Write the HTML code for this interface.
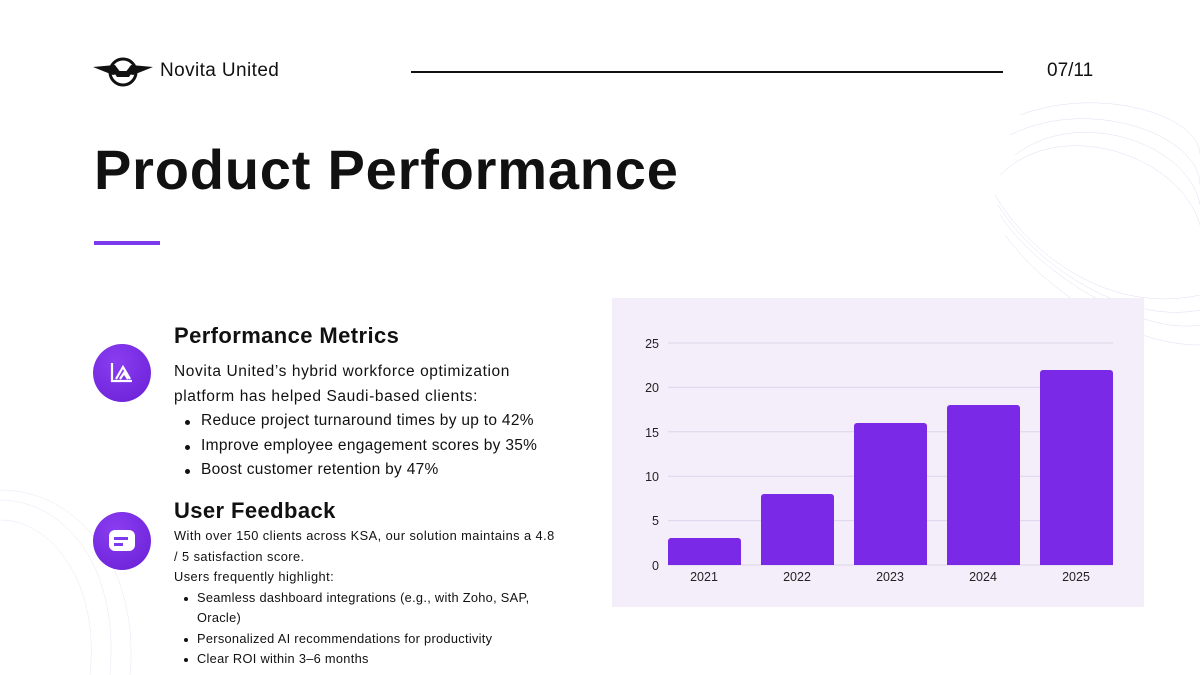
<!DOCTYPE html>
<html><head><meta charset="utf-8"><style>
*{margin:0;padding:0;box-sizing:border-box}
body{width:1200px;height:675px;background:#fff;font-family:"Liberation Sans",sans-serif;color:#111;position:relative;overflow:hidden}
.a{position:absolute}
ul{list-style:none}
li{position:relative;white-space:nowrap}
.circ{width:58px;height:58px;border-radius:50%;background:radial-gradient(circle at 40% 30%,#8a3df0,#6a1fd6)}
</style></head><body>
<svg class="a" style="left:990px;top:95px" width="210" height="260" viewBox="0 0 210 260">
<g fill="none" stroke="#e4dbf3" stroke-width="0.5">
<path d="M30 20 C110 -10 210 20 210 60"/><path d="M20 40 C100 0 210 40 210 90"/>
<path d="M10 80 C70 20 190 60 210 130"/><path d="M10 120 C50 180 150 240 210 230"/>
<path d="M15 140 C60 200 140 250 210 250"/><path d="M5 100 C40 160 120 220 210 200"/>
<path d="M25 60 C90 10 200 50 210 110"/><path d="M8 110 C45 170 135 230 210 215"/>
</g></svg>
<svg class="a" style="left:0;top:480px" width="200" height="195" viewBox="0 0 200 195">
<g fill="none" stroke="#ebe4f6" stroke-width="0.5">
<path d="M0 20 C60 20 120 80 110 195"/><path d="M0 40 C50 40 100 100 90 195"/><path d="M0 10 C80 10 140 90 130 195"/>
</g></svg>
<svg class="a" style="left:93px;top:55px" width="60" height="34" viewBox="0 0 60 34">
<circle cx="30" cy="17" r="13" fill="none" stroke="#111" stroke-width="3"/>
<path d="M0 12 L22 10 L28 18 L20 20 Z M60 12 L38 10 L32 18 L40 20 Z" fill="#111"/>
<path d="M20 16 L40 16 L36 22 L24 22 Z" fill="#111"/>
</svg>
<div class="a" style="left:160px;top:60px;font-size:19px;letter-spacing:0.4px">Novita United</div>
<div class="a" style="left:411px;top:71px;width:592px;height:2px;background:#111"></div>
<div class="a" style="left:1047px;top:60px;font-size:19px">07/11</div>
<div class="a" style="left:94px;top:137px;font-size:56px;font-weight:bold;letter-spacing:0.8px">Product Performance</div>
<div class="a" style="left:94px;top:241px;width:66px;height:4px;background:#7c3aed"></div>

<div class="a circ" style="left:93px;top:344px"></div>
<svg class="a" style="left:108px;top:359px" width="28" height="28" viewBox="0 0 28 28" fill="none" stroke="#fff" stroke-width="2.2"><path d="M4 4 V22 H24"/><path d="M8 20 L15 8 L22 20 M12 20 L16 14 L20 20"/></svg>
<div class="a circ" style="left:93px;top:512px"></div>
<div class="a" style="left:109px;top:530px;width:26px;height:21px;background:#fff;border-radius:6px"></div>
<div class="a" style="left:114px;top:537px;width:14px;height:2.5px;background:#7c3aed"></div>
<div class="a" style="left:114px;top:543px;width:9px;height:2.5px;background:#7c3aed"></div>

<div class="a" style="left:174px;top:323px;font-size:22px;font-weight:bold;letter-spacing:0.4px">Performance Metrics</div>
<div class="a" style="left:174px;top:360px;font-size:15.5px;line-height:24.5px;width:440px;letter-spacing:0.6px">Novita United’s hybrid workforce optimization<br>platform has helped Saudi-based clients:
<ul style="margin-left:27px;letter-spacing:0.3px">
<li><span style="position:absolute;left:-16px;top:11px;width:5px;height:5px;border-radius:50%;background:#111"></span>Reduce project turnaround times by up to 42%</li>
<li><span style="position:absolute;left:-16px;top:11px;width:5px;height:5px;border-radius:50%;background:#111"></span>Improve employee engagement scores by 35%</li>
<li><span style="position:absolute;left:-16px;top:11px;width:5px;height:5px;border-radius:50%;background:#111"></span>Boost customer retention by 47%</li>
</ul></div>
<div class="a" style="left:174px;top:498px;font-size:22px;font-weight:bold;letter-spacing:0.4px">User Feedback</div>
<div class="a" style="left:174px;top:526px;font-size:12.8px;line-height:20.5px;width:440px;letter-spacing:0.45px">With over 150 clients across KSA, our solution maintains a 4.8<br>/ 5 satisfaction score.<br>Users frequently highlight:
<ul style="margin-left:23px;letter-spacing:0.3px">
<li><span style="position:absolute;left:-13px;top:9px;width:4px;height:4px;border-radius:50%;background:#111"></span>Seamless dashboard integrations (e.g., with Zoho, SAP,<br>Oracle)</li>
<li><span style="position:absolute;left:-13px;top:9px;width:4px;height:4px;border-radius:50%;background:#111"></span>Personalized AI recommendations for productivity</li>
<li><span style="position:absolute;left:-13px;top:9px;width:4px;height:4px;border-radius:50%;background:#111"></span>Clear ROI within 3–6 months</li>
</ul></div>

<svg class="a" style="left:612px;top:298px" width="532" height="309" viewBox="612 298 532 309" font-family="Liberation Sans, sans-serif" font-size="12.5" fill="#222">
<rect x="612" y="298" width="532" height="309" fill="#f4eefb"/>
<g stroke="#ddd4ea" stroke-width="1">
<line x1="668" x2="1113" y1="343" y2="343"/><line x1="668" x2="1113" y1="387.4" y2="387.4"/>
<line x1="668" x2="1113" y1="431.8" y2="431.8"/><line x1="668" x2="1113" y1="476.2" y2="476.2"/>
<line x1="668" x2="1113" y1="520.6" y2="520.6"/><line x1="668" x2="1113" y1="565" y2="565"/>
</g>
<g text-anchor="end">
<text x="659" y="348">25</text><text x="659" y="392">20</text><text x="659" y="437">15</text>
<text x="659" y="481">10</text><text x="659" y="525">5</text><text x="659" y="570">0</text></g>
<g fill="#7a2ae6">
<path d="M668 565V541a3 3 0 0 1 3-3H738a3 3 0 0 1 3 3V565Z"/>
<path d="M761 565V497a3 3 0 0 1 3-3H831a3 3 0 0 1 3 3V565Z"/>
<path d="M854 565V426a3 3 0 0 1 3-3H924a3 3 0 0 1 3 3V565Z"/>
<path d="M947 565V408a3 3 0 0 1 3-3H1017a3 3 0 0 1 3 3V565Z"/>
<path d="M1040 565V373a3 3 0 0 1 3-3H1110a3 3 0 0 1 3 3V565Z"/>
</g>
<g text-anchor="middle">
<text x="704" y="581">2021</text><text x="797" y="581">2022</text><text x="890" y="581">2023</text>
<text x="983" y="581">2024</text><text x="1076" y="581">2025</text></g>
</svg>
</body></html>
